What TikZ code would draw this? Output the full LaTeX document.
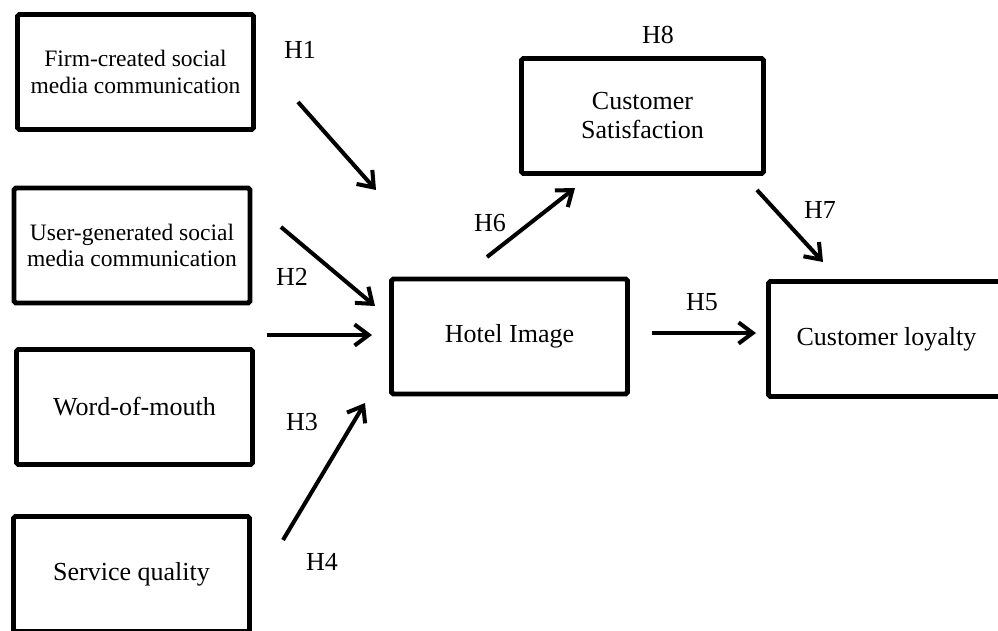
\documentclass[tikz,border=0pt]{standalone}
\usepackage{fontspec}
\setmainfont{Liberation Serif}
\usetikzlibrary{arrows.meta}

\begin{document}
\begin{tikzpicture}[x=0.02cm,y=-0.02cm,
  var/.style={draw,line width=2.8pt,rounded corners=1pt,minimum width=4.72cm,minimum height=2.3cm,align=center,inner sep=0pt,font=\fontsize{14.8}{16.5}\selectfont},
  small/.style={font=\fontsize{13.4}{15.2}\selectfont},
  link/.style={line width=2.3pt,-{Straight Barb[length=8pt,width=12pt]}},
  hyp/.style={font=\fontsize{14.8}{17}\selectfont}]
\useasboundingbox (0,0) rectangle (998,630);
\clip (0,0) rectangle (998,630);
\node[var,small] (firm) at (135.5,72) {Firm-created social\\media communication};
\node[var,small] (user) at (132,245.5) {User-generated social\\media communication};
\node[var] (wom) at (134.5,407) {Word-of-mouth};
\node[var] (serv) at (131.5,574) {Service quality};
\node[var] (hotel) at (509.5,336.5) {Hotel Image};
\node[var,minimum width=4.84cm] (sat) at (642.5,116) {Customer\\Satisfaction};
\node[var] (loyal) at (886.5,339) {Customer loyalty};
\coordinate (a1) at (298,102); \coordinate (b1) at (376,190);
\coordinate (a2) at (281,227); \coordinate (b2) at (375,306);
\coordinate (a0) at (267,335); \coordinate (b0) at (372,335);
\coordinate (a3) at (283,540); \coordinate (b3) at (365,403);
\coordinate (a6) at (487,257); \coordinate (b6) at (575,188);
\coordinate (a5) at (652,333); \coordinate (b5) at (756,333);
\coordinate (a7) at (757,190); \coordinate (b7) at (823,262);
\draw[link] (a1) -- (b1);
\draw[link] (a2) -- (b2);
\draw[link] (a0) -- (b0);
\draw[link] (a3) -- (b3);
\draw[link] (a6) -- (b6);
\draw[link] (a5) -- (b5);
\draw[link] (a7) -- (b7);
\node[hyp] (h1) at (300,50) {H1};
\node[hyp] (h2) at (292,277) {H2};
\node[hyp] (h3) at (302,422) {H3};
\node[hyp] (h4) at (322,562) {H4};
\node[hyp] (h5) at (702,302) {H5};
\node[hyp] (h6) at (490,223) {H6};
\node[hyp] (h7) at (820,210) {H7};
\node[hyp] (h8) at (658,35) {H8};
\end{tikzpicture}
\end{document}
